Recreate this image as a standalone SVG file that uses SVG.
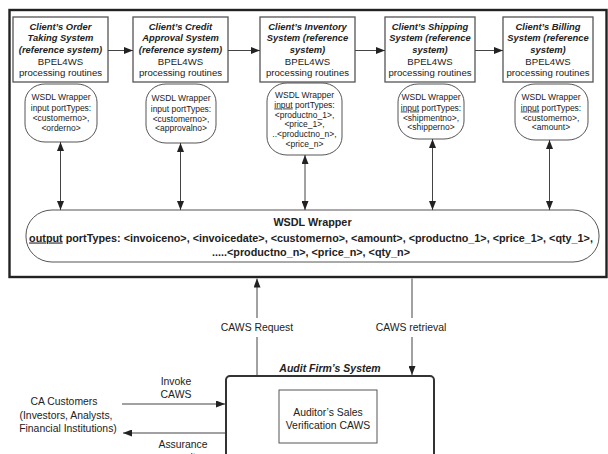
<svg xmlns="http://www.w3.org/2000/svg" width="608" height="454" viewBox="0 0 608 454">
<style>
text{font-family:"Liberation Sans",Arial,sans-serif;fill:#222}
.bt{font-size:9.4px;font-weight:bold;font-style:italic;text-anchor:middle}
.rt{font-size:9.6px;text-anchor:middle}
.ot{font-size:8.5px;text-anchor:middle}
.big{font-size:10.8px;font-weight:bold;text-anchor:middle}
.lb{font-size:10.4px;text-anchor:middle}
.box{fill:#fff;stroke:#555;stroke-width:1.3}
.oval{fill:#fff;stroke:#555;stroke-width:1}
.ln{stroke:#444;stroke-width:1;fill:none}
.u{text-decoration:underline}
</style>
<defs>
<marker id="ah" markerUnits="userSpaceOnUse" markerWidth="9" markerHeight="7" viewBox="0 0 9 7" refX="9" refY="3.5" orient="auto-start-reverse">
<path d="M0,0 L9,3.5 L0,7 z" fill="#222"/>
</marker>
</defs>
<rect width="608" height="454" fill="#fff"/>
<g id="outer">
<rect x="9.5" y="10" width="597" height="267" fill="none" stroke="#222" stroke-width="2.4"/>
</g>
<g id="sys1">
<rect class="box" x="13" y="17" width="95" height="65"/>
<text class="bt" x="60.5" y="29.5">Client’s Order</text>
<text class="bt" x="60.5" y="41.2">Taking System</text>
<text class="bt" x="60.5" y="52.9">(reference system)</text>
<text class="rt" x="60.5" y="64.6">BPEL4WS</text>
<text class="rt" x="60.5" y="76.3">processing routines</text>
</g>
<g id="sys2">
<rect class="box" x="133" y="17" width="95" height="65"/>
<text class="bt" x="180.5" y="29.5">Client’s Credit</text>
<text class="bt" x="180.5" y="41.2">Approval System</text>
<text class="bt" x="180.5" y="52.9">(reference system)</text>
<text class="rt" x="180.5" y="64.6">BPEL4WS</text>
<text class="rt" x="180.5" y="76.3">processing routines</text>
</g>
<g id="sys3">
<rect class="box" x="260" y="17" width="95" height="65"/>
<text class="bt" x="307.5" y="29.5">Client’s Inventory</text>
<text class="bt" x="307.5" y="41.2">System (reference</text>
<text class="bt" x="307.5" y="52.9">system)</text>
<text class="rt" x="307.5" y="64.6">BPEL4WS</text>
<text class="rt" x="307.5" y="76.3">processing routines</text>
</g>
<g id="sys4">
<rect class="box" x="385" y="17" width="90" height="65"/>
<text class="bt" x="430" y="29.5">Client’s Shipping</text>
<text class="bt" x="430" y="41.2">System (reference</text>
<text class="bt" x="430" y="52.9">system)</text>
<text class="rt" x="430" y="64.6">BPEL4WS</text>
<text class="rt" x="430" y="76.3">processing routines</text>
</g>
<g id="sys5">
<rect class="box" x="503" y="17" width="90" height="65"/>
<text class="bt" x="548" y="29.5">Client’s Billing</text>
<text class="bt" x="548" y="41.2">System (reference</text>
<text class="bt" x="548" y="52.9">system)</text>
<text class="rt" x="548" y="64.6">BPEL4WS</text>
<text class="rt" x="548" y="76.3">processing routines</text>
</g>
<g id="wrap1">
<rect class="oval" x="25" y="84" width="72" height="58" rx="20" ry="18"/>
<text class="ot" x="61" y="100">WSDL Wrapper</text>
<text class="ot" x="61" y="110.5">input portTypes:</text>
<text class="ot" x="61" y="120.5">&lt;customerno&gt;,</text>
<text class="ot" x="61" y="130.5">&lt;orderno&gt;</text>
</g>
<g id="wrap2">
<rect class="oval" x="146" y="84" width="70" height="59" rx="20" ry="18"/>
<text class="ot" x="181" y="101">WSDL Wrapper</text>
<text class="ot" x="181" y="111.5">input portTypes:</text>
<text class="ot" x="181" y="121.5">&lt;customerno&gt;,</text>
<text class="ot" x="181" y="131">&lt;approvalno&gt;</text>
</g>
<g id="wrap3">
<rect class="oval" x="267" y="83" width="75" height="72" rx="20" ry="18"/>
<text class="ot" x="304.5" y="97.5">WSDL Wrapper</text>
<text class="ot" x="304.5" y="107.5"><tspan class="u">input</tspan> portTypes:</text>
<text class="ot" x="304.5" y="117.5">&lt;productno_1&gt;,</text>
<text class="ot" x="304.5" y="127">&lt;price_1&gt;,</text>
<text class="ot" x="304.5" y="137">..&lt;productno_n&gt;,</text>
<text class="ot" x="304.5" y="147">&lt;price_n&gt;</text>
</g>
<g id="wrap4">
<rect class="oval" x="398" y="84" width="66" height="55" rx="20" ry="18"/>
<text class="ot" x="431" y="100">WSDL Wrapper</text>
<text class="ot" x="431" y="110.5"><tspan class="u">input</tspan> portTypes:</text>
<text class="ot" x="431" y="120.5">&lt;shipmentno&gt;,</text>
<text class="ot" x="431" y="130">&lt;shipperno&gt;</text>
</g>
<g id="wrap5">
<rect class="oval" x="515" y="84" width="73" height="56" rx="20" ry="18"/>
<text class="ot" x="551" y="100">WSDL Wrapper</text>
<text class="ot" x="551" y="110.5"><tspan class="u">input</tspan> portTypes:</text>
<text class="ot" x="551" y="120.5">&lt;customerno&gt;,</text>
<text class="ot" x="551" y="130">&lt;amount&gt;</text>
</g>
<g id="wsdl">
<rect class="oval" x="26" y="210" width="573" height="52" rx="26" ry="25"/>
<text class="big" x="312.5" y="226">WSDL Wrapper</text>
<text class="big" x="311" y="241.5"><tspan class="u">output</tspan> portTypes: &lt;invoiceno&gt;, &lt;invoicedate&gt;, &lt;customerno&gt;, &lt;amount&gt;, &lt;productno_1&gt;, &lt;price_1&gt;, &lt;qty_1&gt;,</text>
<text class="big" x="311" y="256">.....&lt;productno_n&gt;, &lt;price_n&gt;, &lt;qty_n&gt;</text>
</g>
<g id="audit">
<text x="330" y="372" style="font-size:10.5px;font-weight:bold;font-style:italic;text-anchor:middle">Audit Firm’s System</text>
<rect x="226" y="376" width="208" height="96" rx="4" fill="#fff" stroke="#333" stroke-width="2"/>
</g>
<g id="caws">
<rect x="279" y="390" width="98" height="53" fill="#fff" stroke="#555" stroke-width="1"/>
<text class="lb" x="328" y="416">Auditor’s Sales</text>
<text class="lb" x="328" y="429">Verification CAWS</text>
</g>
<g id="customers">
<text class="lb" x="64" y="405">CA Customers</text>
<text class="lb" x="66" y="418.5">(Investors, Analysts,</text>
<text class="lb" x="68" y="431.5">Financial Institutions)</text>
</g>
<g id="connectors">
<line class="ln" x1="108" y1="50.5" x2="133" y2="50.5" marker-end="url(#ah)"/>
<line class="ln" x1="228" y1="50.5" x2="260" y2="50.5" marker-end="url(#ah)"/>
<line class="ln" x1="355" y1="50.5" x2="385" y2="50.5" marker-end="url(#ah)"/>
<line class="ln" x1="475" y1="50.5" x2="503" y2="50.5" marker-end="url(#ah)"/>
<line class="ln" x1="60.5" y1="142" x2="60.5" y2="210" marker-start="url(#ah)" marker-end="url(#ah)"/>
<line class="ln" x1="180.5" y1="143" x2="180.5" y2="210" marker-start="url(#ah)" marker-end="url(#ah)"/>
<line class="ln" x1="305" y1="155" x2="305" y2="210" marker-start="url(#ah)" marker-end="url(#ah)"/>
<line class="ln" x1="432.5" y1="139" x2="432.5" y2="210" marker-start="url(#ah)" marker-end="url(#ah)"/>
<line class="ln" x1="549.5" y1="140" x2="549.5" y2="210" marker-start="url(#ah)" marker-end="url(#ah)"/>
<line class="ln" x1="257" y1="318" x2="257" y2="278.5" marker-end="url(#ah)"/>
<line class="ln" x1="257" y1="375" x2="257" y2="337"/>
<line class="ln" x1="412" y1="278.5" x2="412" y2="318"/>
<line class="ln" x1="412" y1="337" x2="412" y2="375" marker-end="url(#ah)"/>
<line class="ln" x1="122" y1="404" x2="225" y2="404" marker-end="url(#ah)"/>
<line class="ln" x1="225" y1="433" x2="123" y2="433" marker-end="url(#ah)"/>
<text class="lb" x="257" y="331">CAWS Request</text>
<text class="lb" x="411" y="331">CAWS retrieval</text>
<text class="lb" x="176" y="385">Invoke</text>
<text class="lb" x="176" y="398">CAWS</text>
<text class="lb" x="183" y="448">Assurance</text>
<text class="lb" x="183" y="460.5">result</text>
</g>
</svg>
